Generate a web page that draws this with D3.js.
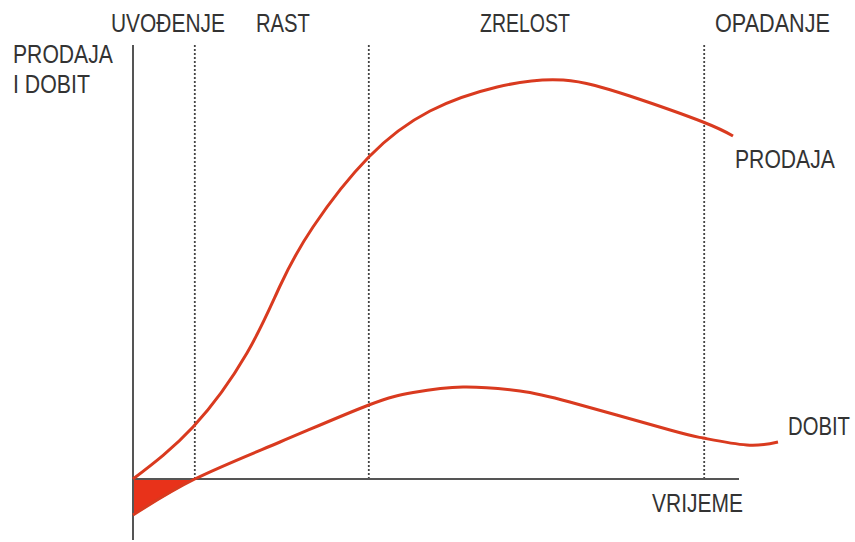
<!DOCTYPE html>
<html>
<head>
<meta charset="utf-8">
<script src="https://cdn.jsdelivr.net/npm/d3@7"></script>
<style>
  body { margin: 0; background: #fff; }
  text { font-family: "Liberation Sans", Arial, sans-serif; fill: #333; font-size: 26px; }
</style>
</head>
<body>
<div id="chart"></div>
<script>
// phase names and the time where each phase starts
const phases = ['UVOĐENJE', 'RAST', 'ZRELOST', 'OPADANJE']
const phaseStarts = [0, 10.3, 39.3, 95.2]

// sales curve [time, value]
const prodaja = [
  [0, 0], [10, 10.4], [19, 25.2], [24.5, 38.6], [30, 50.4], [39.3, 64.4],
  [49.5, 73.6], [60.7, 78.4], [71.7, 79.8], [82.8, 76.6], [95, 71.4], [100, 68.6]
]

// profit curve [time, value]
const dobit = [
  [0, -7.2], [10.3, 0], [24.5, 7.4], [39.3, 14.8], [46.7, 17.3], [55, 18.4],
  [64.5, 17.6], [72.8, 15.4], [89.5, 9.8], [95, 8.2], [102.3, 6.8], [107.5, 7.4]
]

const w = 855
const h = 542
const red = '#d93a1f'

const xScale = d3.scaleLinear()
                .domain([0, 100])
                .range([133, 733])
const yScale = d3.scaleLinear()
                .domain([-12, 88])
                .range([539, 39])

const svg = d3.select('#chart')
                .append('svg')
                .attr('width', w)
                .attr('height', h)

// loss triangle under the axis
const loss = [dobit[0], dobit[1]]
svg.append('path')
   .datum(loss)
   .attr('d', d3.area().x(d => xScale(d[0])).y0(yScale(0)).y1(d => yScale(d[1])))
   .attr('fill', '#e8321a')

// phase dividers
svg.selectAll('.divider')
   .data(phaseStarts.slice(1))
   .enter()
   .append('line')
   .attr('class', 'divider')
   .attr('x1', d => xScale(d))
   .attr('x2', d => xScale(d))
   .attr('y1', yScale(86.8))
   .attr('y2', yScale(0))
   .attr('stroke', '#444')
   .attr('stroke-width', 1.8)
   .attr('stroke-dasharray', '2,2')

// axes
svg.append('line')
   .attr('x1', xScale(0)).attr('x2', xScale(0))
   .attr('y1', yScale(86.8)).attr('y2', yScale(-12.2))
   .attr('stroke', '#555').attr('stroke-width', 2)
svg.append('line')
   .attr('x1', xScale(0)).attr('x2', xScale(101))
   .attr('y1', yScale(0)).attr('y2', yScale(0))
   .attr('stroke', '#555').attr('stroke-width', 2)

const line = d3.line()
               .x(d => xScale(d[0]))
               .y(d => yScale(d[1]))
               .curve(d3.curveNatural)

svg.append('path')
   .datum(prodaja)
   .attr('d', line)
   .attr('fill', 'none')
   .attr('stroke', red)
   .attr('stroke-width', 3)

svg.append('path')
   .datum(dobit)
   .attr('d', line)
   .attr('fill', 'none')
   .attr('stroke', red)
   .attr('stroke-width', 3)

// narrow look: squeeze each label horizontally to the width it has in the original
function label(x, y, t, len) {
  const txt = svg.append('text').text(t)
  const natural = txt.node().getComputedTextLength()
  txt.attr('transform', `translate(${x},${y}) scale(${len / natural},1)`)
}

// phase labels across the top
const phaseLeft = [111, 256, 480, 715]
const phaseWidth = [114, 54, 90, 115]
phases.forEach((p, i) => label(phaseLeft[i], 32, p, phaseWidth[i]))

label(13, 63, 'PRODAJA', 100)
label(13, 93, 'I DOBIT', 77)
label(735, 168, 'PRODAJA', 100)
label(788, 435, 'DOBIT', 62)
label(652, 512, 'VRIJEME', 91)
</script>
</body>
</html>
